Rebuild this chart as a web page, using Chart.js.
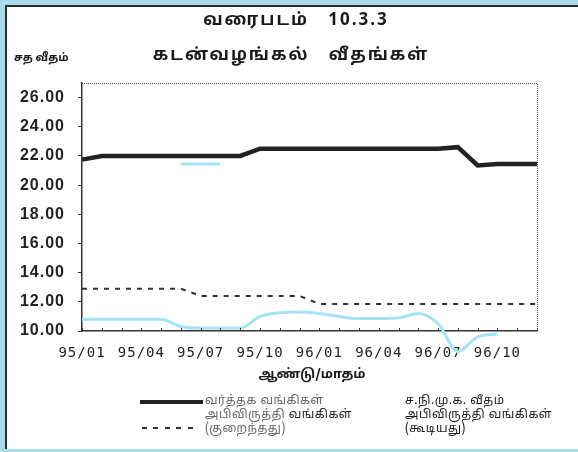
<!DOCTYPE html>
<html>
<head>
<meta charset="utf-8">
<script src="https://cdn.jsdelivr.net/npm/chart.js@4.4.1/dist/chart.umd.min.js"></script>
<style>
  html, body { margin: 0; padding: 0; }
  body { width: 578px; height: 452px; background: #a9dbec; position: relative; overflow: hidden; }
  #panel { position: absolute; left: 5px; top: 5px; width: 580px; height: 442px; background: #fff;
           border-left: 2px solid #2a2a2a; border-top: 2px solid #2a2a2a; }
  #chartBox { position: absolute; left: 0; top: 0; width: 578px; height: 452px; }
  .txt { position: absolute; white-space: nowrap; font-family: "Noto Sans Tamil", "Lohit Tamil", "Noto Sans", sans-serif; color: #1a1a1a; }
  .title { font-weight: bold; font-size: 17px; letter-spacing: 2px; transform: translateX(-50%); }
  .leg { font-size: 12px; line-height: 15px; letter-spacing: 0.5px; }
</style>
</head>
<body>
<div id="panel"></div>
<div id="chartBox"><canvas id="rateChart" width="578" height="452"></canvas></div>

<div class="txt title" style="left:296px; top:10px;">வரைபடம்&nbsp;&nbsp;&nbsp;10.3.3</div>
<div class="txt title" style="left:291px; top:45px;">கடன்வழங்கல்&nbsp;&nbsp;&nbsp;வீதங்கள்</div>
<div class="txt" style="left:14px; top:51px; font-size:11px; font-weight:bold;">சத வீதம்</div>
<div class="txt" style="left:312px; top:367px; font-size:13px; font-weight:bold; transform:translateX(-50%);">ஆண்டு/மாதம்</div>

<!-- legend -->
<div style="position:absolute; left:140px; top:400px; width:63px; height:4px; background:#222;"></div>
<div style="position:absolute; left:142px; top:427px; width:52px; height:2px;
            background:repeating-linear-gradient(to right, #333 0 5px, transparent 5px 11.5px);"></div>
<div class="txt leg" style="left:205px; top:394px; color:#666;">வர்த்தக வங்கிகள்</div>
<div class="txt leg" style="left:205px; top:408px; color:#666;">அபிவிருத்தி <span style="color:#222;">வங்கிகள்</span></div>
<div class="txt leg" style="left:205px; top:422px; color:#666;">(குறைந்தது)</div>
<div class="txt leg" style="left:405px; top:394px;">ச.நி.மு.க. வீதம்</div>
<div class="txt leg" style="left:405px; top:408px;">அபிவிருத்தி வங்கிகள்</div>
<div class="txt leg" style="left:405px; top:422px;">(கூடியது)</div>

<script>
// Months 95/01 .. 96/12
const months = [
    "95/01","95/02","95/03","95/04","95/05","95/06","95/07","95/08","95/09","95/10","95/11","95/12",
    "96/01","96/02","96/03","96/04","96/05","96/06","96/07","96/08","96/09","96/10","96/11","96/12"
];

// Commercial banks
const commercialBanks = [
    21.75, 22.0, 22.0, 22.0, 22.0, 22.0, 22.0, 22.0, 22.0, 22.5, 22.5, 22.5,
    22.5, 22.5, 22.5, 22.5, 22.5, 22.5, 22.5, 22.6, 21.35, 21.45, 21.45, 21.45
];

// Development banks (minimum)
const devBanksMin = [
    12.9, 12.9, 12.9, 12.9, 12.9, 12.9, 12.4, 12.4, 12.4, 12.4, 12.4, 12.4,
    11.85, 11.85, 11.85, 11.85, 11.85, 11.85, 11.85, 11.85, 11.85, 11.85, 11.85, 11.85
];

// Development banks (maximum) - lower cyan line
const devBanksMax = [
    10.8, 10.8, 10.8, 10.8, 10.8, 10.3, 10.2, 10.2, 10.2, 11.0, 11.25, 11.3,
    11.2, 11.0, 10.85, 10.85, 10.9, 11.2, 10.5, 8.6, 9.6, 9.8, null, null
];

// short cyan segment near the top
const devBanksMaxUpper = [
    null, null, null, null, null, 21.45, 21.45, 21.45, null, null, null, null,
    null, null, null, null, null, null, null, null, null, null, null, null
];

const yTicks = [10, 12, 14, 16, 18, 20, 22, 24, 26];

// dotted frame + small inward month ticks
const framePlugin = {
    id: "frame",
    beforeDraw(chart) {
        chart.ctx.letterSpacing = "1px";
    },
    afterDraw(chart) {
        const { ctx, chartArea: a, scales } = chart;
        ctx.save();
        ctx.strokeStyle = "#555";
        ctx.lineWidth = 1;
        ctx.setLineDash([1, 1]);
        ctx.beginPath();
        ctx.moveTo(a.left, a.top + 0.5);
        ctx.lineTo(a.right + 0.5, a.top + 0.5);
        ctx.lineTo(a.right + 0.5, a.bottom);
        ctx.stroke();
        ctx.setLineDash([]);
        ctx.strokeStyle = "#333";
        months.forEach((m, i) => {
            const x = Math.round(scales.x.getPixelForValue(i)) + 0.5;
            ctx.beginPath();
            ctx.moveTo(x, a.bottom);
            ctx.lineTo(x, a.bottom - 3);
            ctx.stroke();
        });
        ctx.restore();
    }
};

new Chart(document.getElementById("rateChart"), {
    type: "line",
    data: {
        labels: months,
        datasets: [
            {
                label: "devBanksMax",
                data: devBanksMax,
                borderColor: "#a3e3f4",
                borderWidth: 3,
                pointRadius: 0,
                cubicInterpolationMode: "monotone",
                clip: false
            },
            {
                label: "devBanksMaxUpper",
                data: devBanksMaxUpper,
                borderColor: "#a3e3f4",
                borderWidth: 3,
                pointRadius: 0,
                clip: false
            },
            {
                label: "devBanksMin",
                data: devBanksMin,
                borderColor: "#333",
                borderWidth: 2,
                borderDash: [5, 6],
                pointRadius: 0,
                tension: 0
            },
            {
                label: "commercialBanks",
                data: commercialBanks,
                borderColor: "#222",
                borderWidth: 4.5,
                pointRadius: 0,
                tension: 0,
                clip: false
            }
        ]
    },
    options: {
        responsive: false,
        animation: false,
        devicePixelRatio: 1,
        layout: { padding: { top: 83, right: 41, bottom: 0, left: 0 } },
        plugins: {
            legend: { display: false },
            tooltip: { enabled: false }
        },
        scales: {
            x: {
                offset: false,
                afterFit: (scale) => { scale.height = 121; },
                grid: { display: false, drawTicks: false },
                border: { display: true, color: "#333", width: 1.5 },
                ticks: {
                    autoSkip: false,
                    maxRotation: 0,
                    padding: 14,
                    color: "#222",
                    font: { family: "'DejaVu Sans Mono', monospace", size: 14 },
                    callback: (v, i) => (i % 3 === 0 ? months[i] : "")
                }
            },
            y: {
                min: 10,
                max: 27,
                afterFit: (scale) => { scale.width = 82; },
                afterBuildTicks: (scale) => { scale.ticks = yTicks.map(v => ({ value: v })); },
                grid: { drawOnChartArea: false, drawTicks: true, tickLength: 4, color: "#333" },
                border: { display: true, color: "#333", width: 1.5 },
                ticks: {
                    padding: 13,
                    color: "#222",
                    font: { family: "'Liberation Sans', Arial, sans-serif", size: 16, weight: "bold" },
                    callback: (v) => Number(v).toFixed(2)
                }
            }
        }
    },
    plugins: [framePlugin]
});
</script>
</body>
</html>
